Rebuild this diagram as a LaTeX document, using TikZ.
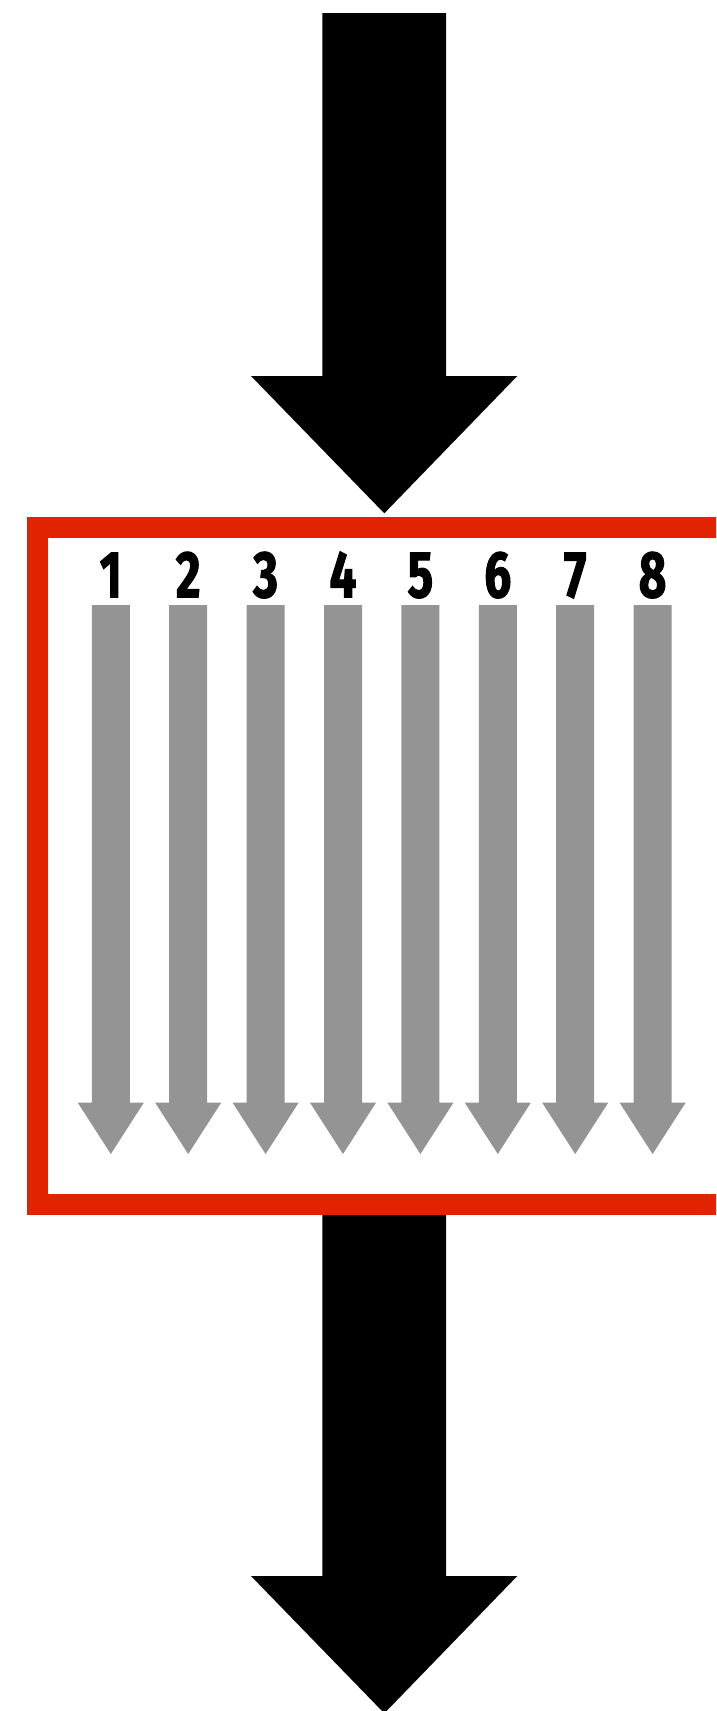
\documentclass[tikz,border=0pt]{standalone}
\usepackage{fontspec}
\newfontfamily\digitfont[FakeStretch=0.72, BoldFeatures={FakeBold=1.6}]{Fira Sans}
\usetikzlibrary{positioning}
\definecolor{boxred}{RGB}{226,35,0}
\definecolor{lanegray}{RGB}{148,148,148}

\begin{document}
\begin{tikzpicture}[
  x=1pt, y=-1pt,
  bigarrow/.style={fill=black},
  lanearrow/.style={fill=lanegray},
  lanenum/.style={font=\digitfont\bfseries\fontsize{66}{66}\selectfont,
                  anchor=base, inner sep=0pt},
  frame/.style={draw=boxred, line width=21.5pt}
]
\useasboundingbox (0,0) rectangle (716,1711);
\clip (0,0) rectangle (716,1711);
% incoming and outgoing arrows
\foreach \dy/\name in {0/in, 1200/out} {
  \coordinate (\name) at (384.3,513.3+\dy);
  \fill[bigarrow] (322.3,13+\dy) -- (446,13+\dy) -- (446,376+\dy)
    -- (517.3,376+\dy) -- (\name) -- (251,376+\dy) -- (322.3,376+\dy) -- cycle;
}
% frame
\draw[frame] (37.5,527.5) rectangle (770,1204.7);
% lanes
\foreach \i in {1,...,8} {
  \pgfmathsetmacro{\cx}{110.8+(\i-1)*77.4}
  \node[lanenum] (n\i) at (\cx,597.3) {\i};
  \fill[lanearrow] (\cx-19,605) -- (\cx+19,605) -- (\cx+19,1102.7)
    -- (\cx+33,1102.7) -- (\cx,1154) -- (\cx-33,1102.7) -- (\cx-19,1102.7) -- cycle;
}
\end{tikzpicture}
\end{document}
